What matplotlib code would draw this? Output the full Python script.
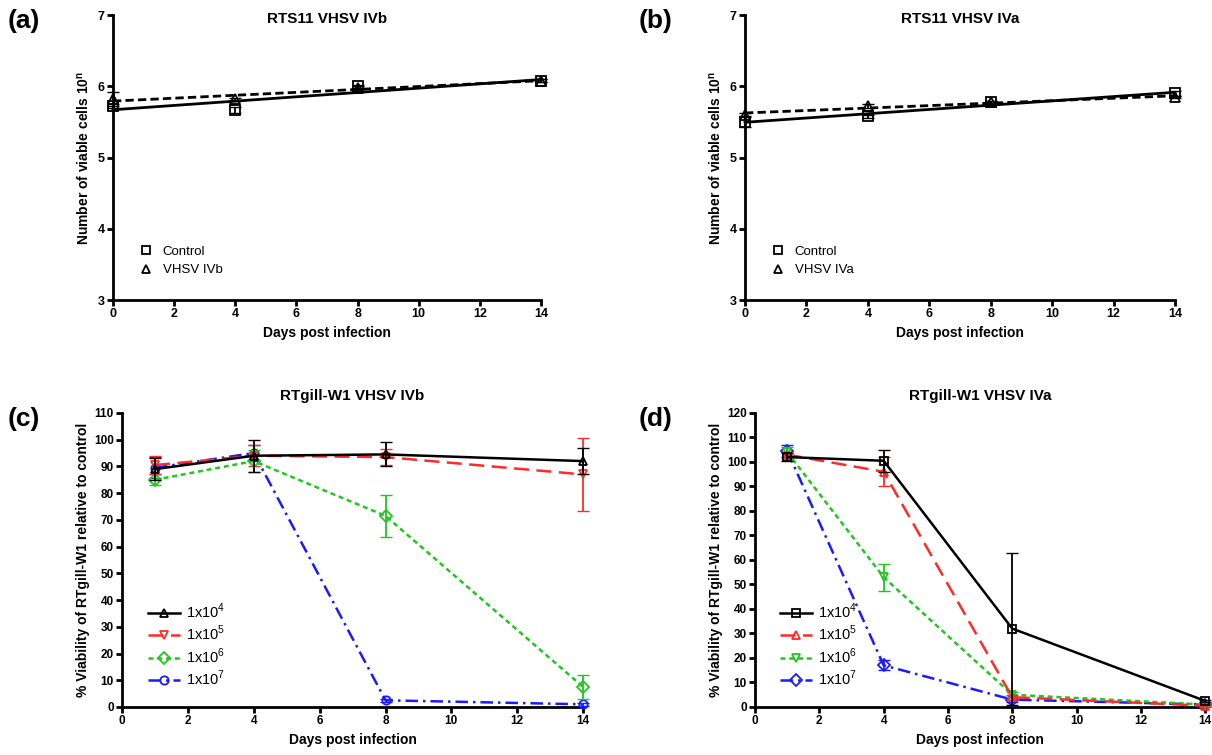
import numpy as np
import matplotlib
matplotlib.use("Agg")
import matplotlib.pyplot as plt

plt.rcParams['font.family'] = ['Liberation Sans', 'DejaVu Sans']
plt.rcParams['mathtext.fontset'] = 'custom'
plt.rcParams['mathtext.rm'] = 'Liberation Sans'
plt.rcParams['mathtext.bf'] = 'Liberation Sans:bold'

# top panels: RTS11 cell counts (log10)
days_top = [0, 4, 8, 14]
a_control = [5.72, 5.67, 6.00, 6.08]
a_control_err = [0.03, 0.04, 0.02, 0.02]
a_virus = [5.82, 5.82, 5.98, 6.08]
a_virus_err = [0.10, 0.02, 0.02, 0.02]
b_control = [5.50, 5.58, 5.78, 5.90]
b_control_err = [0.07, 0.02, 0.02, 0.03]
b_virus = [5.60, 5.72, 5.78, 5.85]
b_virus_err = [0.02, 0.03, 0.02, 0.02]

# bottom panels: RTgill-W1 viability
days_bot = [1, 4, 8, 14]
doses = ['1x10$^4$', '1x10$^5$', '1x10$^6$', '1x10$^7$']
c_vals = [[89, 94, 94.5, 92], [90.5, 94, 93.5, 87], [85, 92, 71.5, 7.5], [89.5, 95, 2.5, 1]]
c_errs = [[4, 6, 4.5, 5], [3.5, 4, 3, 13.5], [2, 4, 8, 4.5], [4, 3, 0.5, 0.5]]
d_vals = [[102, 100.5, 32, 2.5], [103, 96, 4, 0.5], [104, 53, 5, 1], [104.5, 17, 3, 1]]
d_errs = [[1.5, 4.5, 31, 0.5], [1, 6, 1, 0.5], [2, 5.5, 1, 0.5], [2.5, 2, 1, 0.5]]

colors = ['black', '#ff2a2a', '#1ec81e', '#1a1aff']
styles = ['-', (0, (6, 3)), (0, (2, 1.5)), (0, (5, 2, 1, 2))]
c_markers = ['^', 'v', 'D', 'o']
d_markers = ['s', '^', 'v', 'D']

fig = plt.figure(figsize=(12.12, 7.55), dpi=100)


def style_axes(ax, tsize):
    for s in ['top', 'right']:
        ax.spines[s].set_visible(False)
    for s in ['left', 'bottom']:
        ax.spines[s].set_linewidth(2)
    ax.tick_params(width=2, length=4, labelsize=tsize, pad=2)
    for lab in ax.get_xticklabels() + ax.get_yticklabels():
        lab.set_fontweight('bold')
    ax.set_xlabel('Days post infection', fontsize=10, fontweight='bold', labelpad=4)


def top_panel(rect, ctrl, ctrl_err, virus, virus_err, vlabel, title, letter, lx):
    ax = fig.add_axes(rect)
    x = np.array(days_top)
    xx = np.array([0, 14])
    for y, err, mk, ls, lab in [(ctrl, ctrl_err, 's', '-', 'Control'),
                                (virus, virus_err, '^', (0, (3, 1.5)), vlabel)]:
        p = np.polyfit(x, y, 1)
        ax.plot(xx, np.polyval(p, xx), color='black', lw=2, ls=ls, zorder=2)
        ax.errorbar(x, y, yerr=err, fmt='none', ecolor='black', elinewidth=1.3,
                    capsize=4, zorder=3)
        ax.plot(x, y, mk, mfc='none', mec='black', mew=1.3, ms=7, label=lab, zorder=4)
    ax.set_xlim(0, 14)
    ax.set_ylim(3, 7)
    ax.set_xticks(range(0, 15, 2))
    ax.set_yticks([3, 4, 5, 6, 7])
    ax.set_ylabel('Number of viable cells 10$^\\mathbf{n}$', fontsize=10,
                  fontweight='bold', labelpad=4)
    style_axes(ax, 9)
    ax.text(0.5, 0.985, title, transform=ax.transAxes, ha='center', va='center',
            fontsize=11, fontweight='bold')
    ax.legend(loc='lower left', bbox_to_anchor=(0.03, 0.06), frameon=False,
              fontsize=9.5, handletextpad=0.3, labelspacing=0.5, borderpad=0,
              markerscale=0.9)
    fig.text(lx, 0.972, letter, fontsize=19, fontweight='bold', ha='left', va='center')
    for c in ax.get_children():
        c.set_clip_on(False)
    return ax


def bottom_panel(rect, vals, errs, markers, ymax, title, letter, lx):
    ax = fig.add_axes(rect)
    for i in range(4):
        z = 3 + (3 - i) * 0.1
        ax.errorbar(days_bot, vals[i], yerr=errs[i], fmt='none', ecolor=colors[i],
                    elinewidth=1.3, capsize=4, zorder=z)
        ax.plot(days_bot, vals[i], color=colors[i], ls=styles[i], lw=1.8,
                marker=markers[i], mfc='none', mec=colors[i], mew=1.3, ms=6,
                label=doses[i], zorder=z)
    ax.set_xlim(0, 14)
    ax.set_ylim(0, ymax)
    ax.set_xticks(range(0, 15, 2))
    ax.set_yticks(range(0, ymax + 1, 10))
    ax.set_ylabel('% Viability of RTgill-W1 relative to control', fontsize=10,
                  fontweight='bold', labelpad=3)
    style_axes(ax, 8.5)
    ax.set_title(title, fontsize=11, fontweight='bold', pad=9)
    ax.legend(loc='lower left', bbox_to_anchor=(0.04, 0.04), frameon=False, fontsize=10.5,
              handlelength=2.2, handletextpad=0.4, labelspacing=0.2, borderpad=0)
    fig.text(lx, 0.445, letter, fontsize=19, fontweight='bold', ha='left', va='center')
    for c in ax.get_children():
        c.set_clip_on(False)
    return ax


top_panel([0.0932, 0.6026, 0.3532, 0.3775], a_control, a_control_err, a_virus, a_virus_err,
          'VHSV IVb', 'RTS11 VHSV IVb', '(a)', 0.006)
top_panel([0.6147, 0.6026, 0.3548, 0.3775], b_control, b_control_err, b_virus, b_virus_err,
          'VHSV IVa', 'RTS11 VHSV IVa', '(b)', 0.527)
bottom_panel([0.1007, 0.0636, 0.3804, 0.3894], c_vals, c_errs, c_markers, 110,
             'RTgill-W1 VHSV IVb', '(c)', 0.006)
bottom_panel([0.623, 0.0636, 0.3713, 0.3894], d_vals, d_errs, d_markers, 120,
             'RTgill-W1 VHSV IVa', '(d)', 0.527)

fig.savefig('out.png', dpi=100)
